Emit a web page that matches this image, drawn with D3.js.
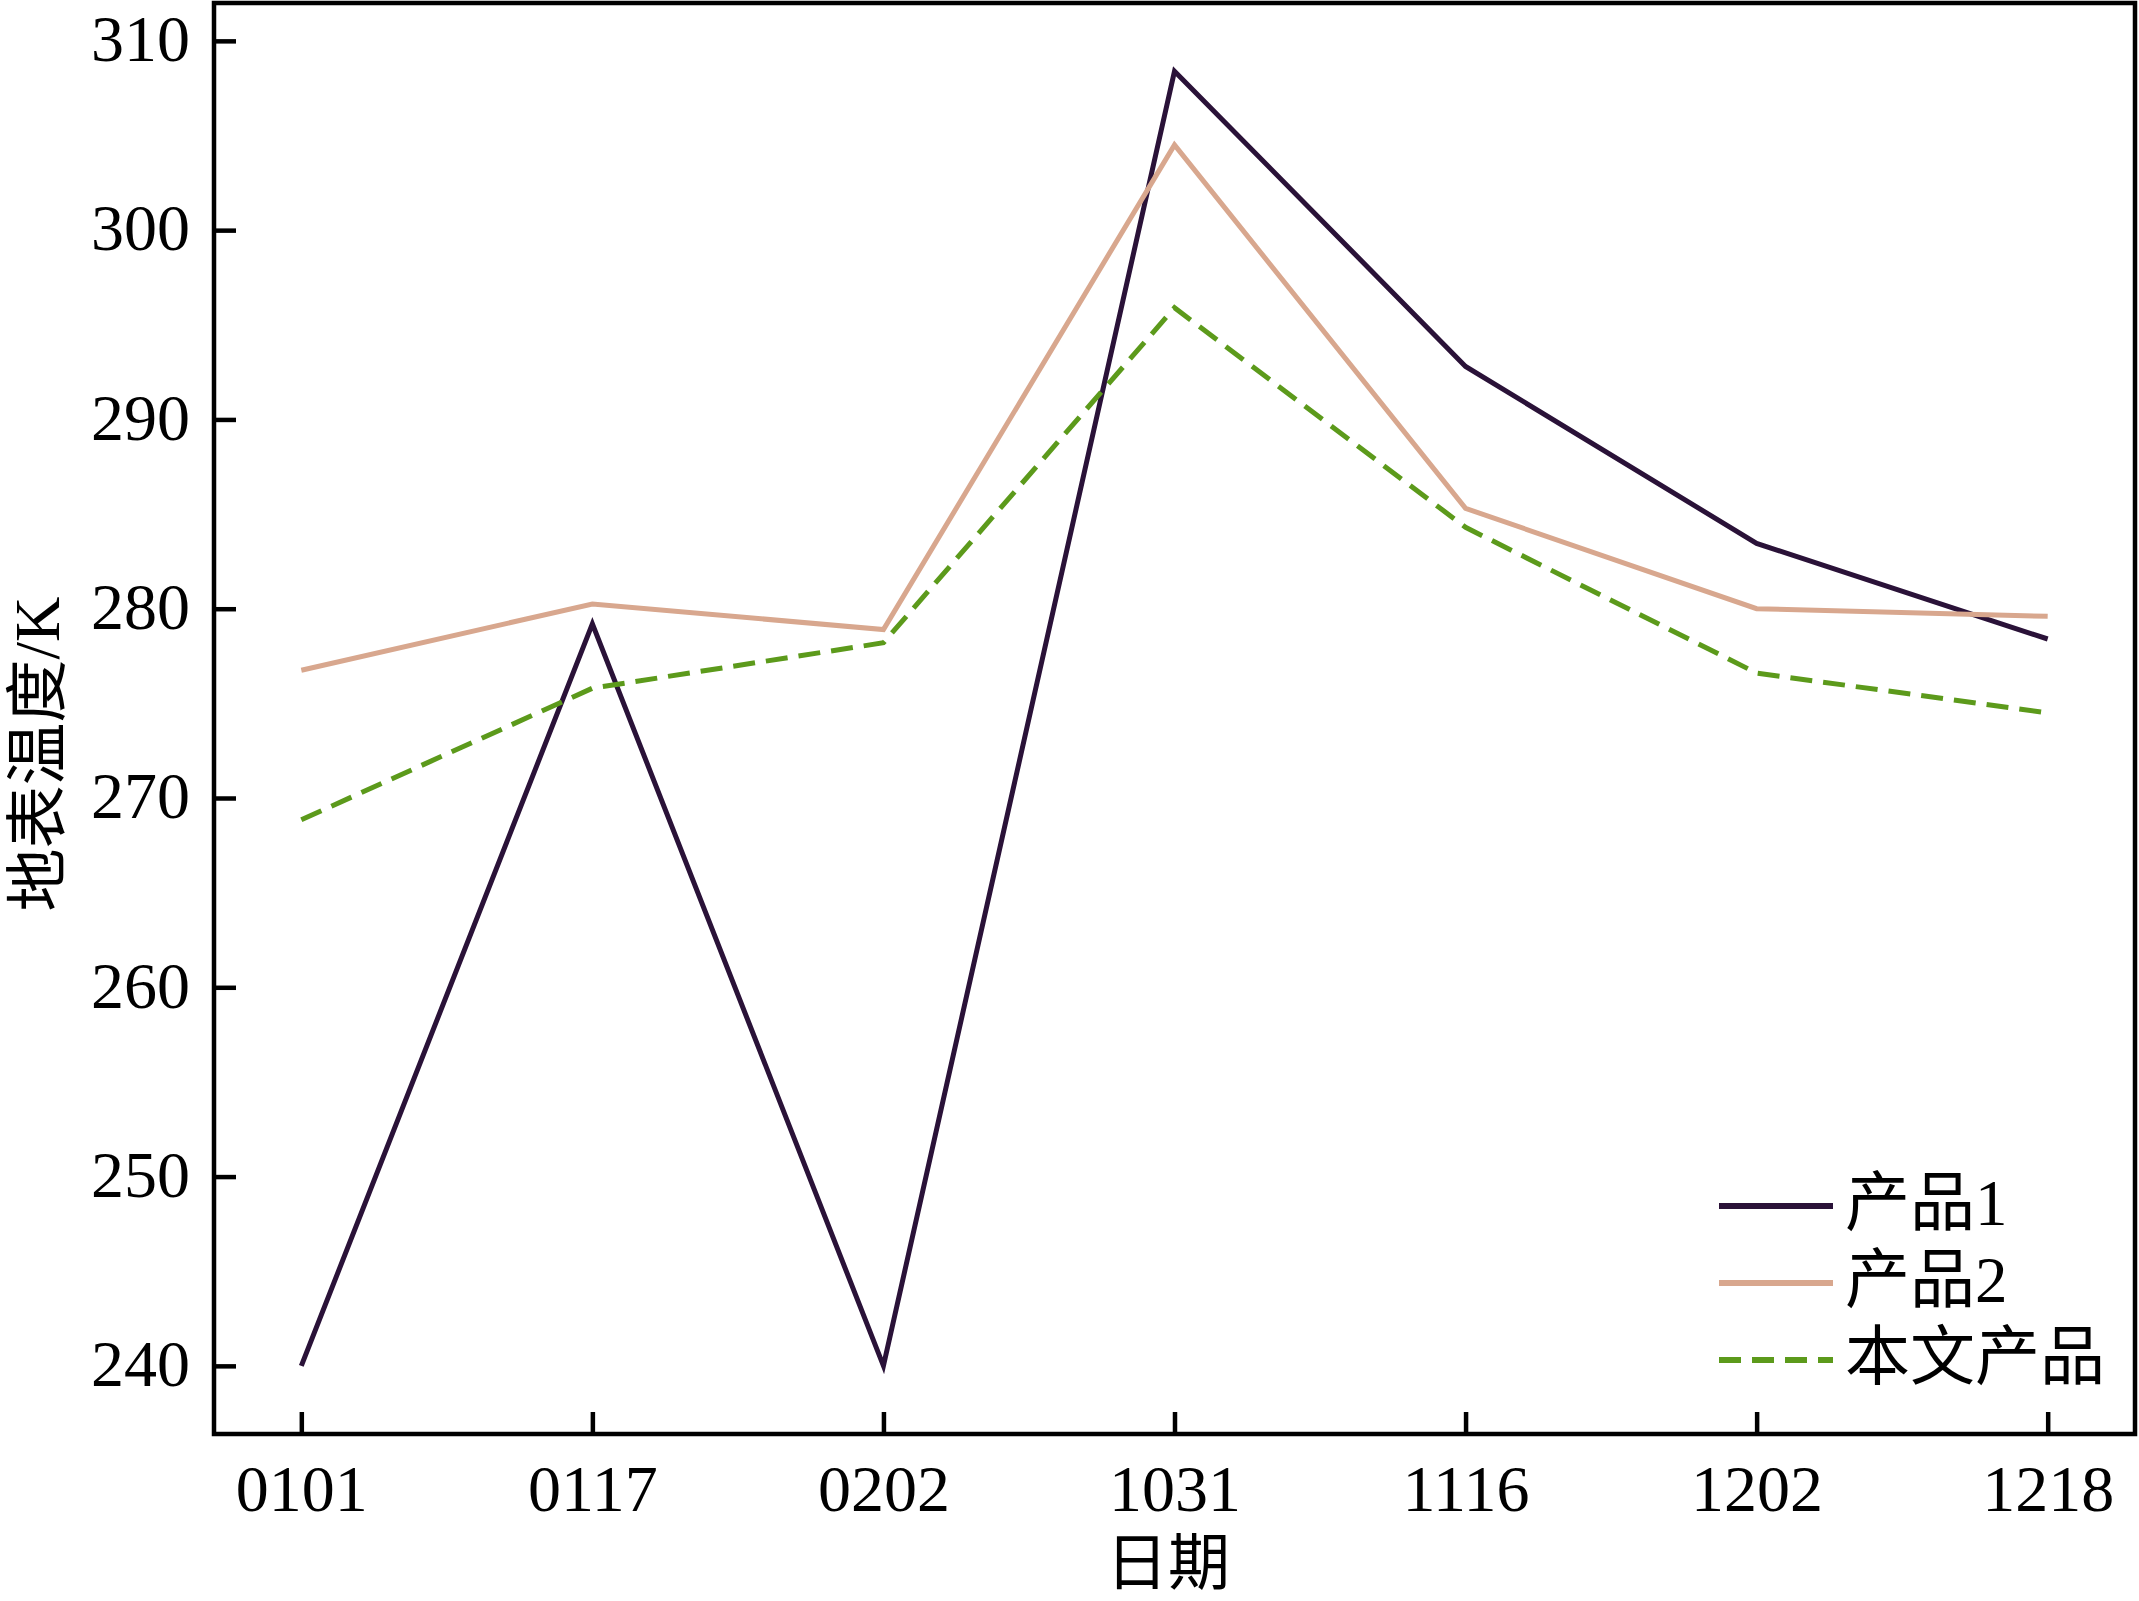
<!DOCTYPE html>
<html>
<head>
<meta charset="utf-8">
<script src="https://cdn.jsdelivr.net/npm/d3@7"></script>
<style>
    html, body { margin: 0; padding: 0; background: #ffffff; }
    svg { display: block; }
</style>
</head>
<body>
<script>
// dates on the x axis
const dates = ['0101', '0117', '0202', '1031', '1116', '1202', '1218'];
// land surface temperature (K) per product
const product1 = [240.0, 279.2, 240.0, 308.4, 292.8, 283.45, 278.4];
const product2 = [276.75, 280.25, 278.9, 304.5, 285.3, 280.0, 279.6];
const ourProduct = [268.85, 275.8, 278.2, 295.9, 284.3, 276.6, 274.5];
const seriesNames = ['产品1', '产品2', '本文产品'];
const yTicks = [240, 250, 260, 270, 280, 290, 300, 310];

const chartW = 2139, chartH = 1601;
const plotLeft = 214, plotRight = 2135, plotTop = 3, plotBottom = 1434;
const fontFamily = '"Liberation Serif", "Times New Roman", "Noto Sans CJK SC", serif';

const svg = d3.select('body').append('svg')
    .attr('width', chartW)
    .attr('height', chartH);

const x = d3.scalePoint()
    .domain(dates)
    .range([plotLeft, plotRight])
    .padding(0.3);

const y = d3.scaleLinear()
    .domain([236.4, 312.0])
    .range([plotBottom, plotTop]);

// series definitions
const series = [
    {name: seriesNames[0], values: product1, color: '#2a1238', dash: null},
    {name: seriesNames[1], values: product2, color: '#d8a78e', dash: null},
    {name: seriesNames[2], values: ourProduct, color: '#5c9a1b', dash: '22,11'}
];

// axes, ticks pointing inward
const yAxis = svg.append('g')
    .attr('transform', 'translate(' + plotLeft + ',0)')
    .call(d3.axisLeft(y).tickValues(yTicks).tickSizeInner(-22).tickSizeOuter(0).tickPadding(24));

const xAxis = svg.append('g')
    .attr('transform', 'translate(0,' + plotBottom + ')')
    .call(d3.axisBottom(x).tickSizeInner(-22).tickSizeOuter(0).tickPadding(30));

[yAxis, xAxis].forEach(function (ax) {
    ax.select('.domain').remove();
    ax.selectAll('.tick line').attr('stroke', '#000').attr('stroke-width', 4.5);
    ax.selectAll('.tick text')
        .attr('fill', '#000')
        .style('font-family', fontFamily)
        .style('font-size', '66px');
});
yAxis.selectAll('.tick text').attr('dy', '0.30em');
xAxis.selectAll('.tick text').attr('dy', '0.71em');

// frame box
svg.append('rect')
    .attr('x', plotLeft)
    .attr('y', plotTop)
    .attr('width', plotRight - plotLeft)
    .attr('height', plotBottom - plotTop)
    .attr('fill', 'none')
    .attr('stroke', '#000')
    .attr('stroke-width', 4.5);

// lines
const line = d3.line()
    .x(function (d, i) { return x(dates[i]); })
    .y(function (d) { return y(d); });

series.forEach(function (s) {
    const path = svg.append('path')
        .datum(s.values)
        .attr('d', line)
        .attr('fill', 'none')
        .attr('stroke', s.color)
        .attr('stroke-width', 5)
        .attr('stroke-linejoin', 'miter');
    if (s.dash) {
        path.attr('stroke-dasharray', s.dash);
    }
});

// axis titles
svg.append('text')
    .attr('x', 1168)
    .attr('y', 1564)
    .attr('text-anchor', 'middle')
    .attr('dominant-baseline', 'central')
    .style('font-family', fontFamily)
    .style('font-size', '62px')
    .text('日期');

svg.append('text')
    .attr('transform', 'translate(38,754) rotate(-90)')
    .attr('text-anchor', 'middle')
    .attr('dominant-baseline', 'central')
    .style('font-family', fontFamily)
    .style('font-size', '63px')
    .text('地表温度/K');

// legend
const legend = svg.append('g');
series.forEach(function (s, i) {
    const ly = 1206 + i * 77;
    const ln = legend.append('line')
        .attr('x1', 1719)
        .attr('x2', 1833)
        .attr('y1', ly)
        .attr('y2', ly)
        .attr('stroke', s.color)
        .attr('stroke-width', 6);
    if (s.dash) {
        ln.attr('stroke-dasharray', s.dash);
    }
    legend.append('text')
        .attr('x', 1845)
        .attr('y', ly - 3)
        .attr('dominant-baseline', 'central')
        .style('font-family', fontFamily)
        .style('font-size', '65px')
        .text(s.name);
});
</script>
</body>
</html>
